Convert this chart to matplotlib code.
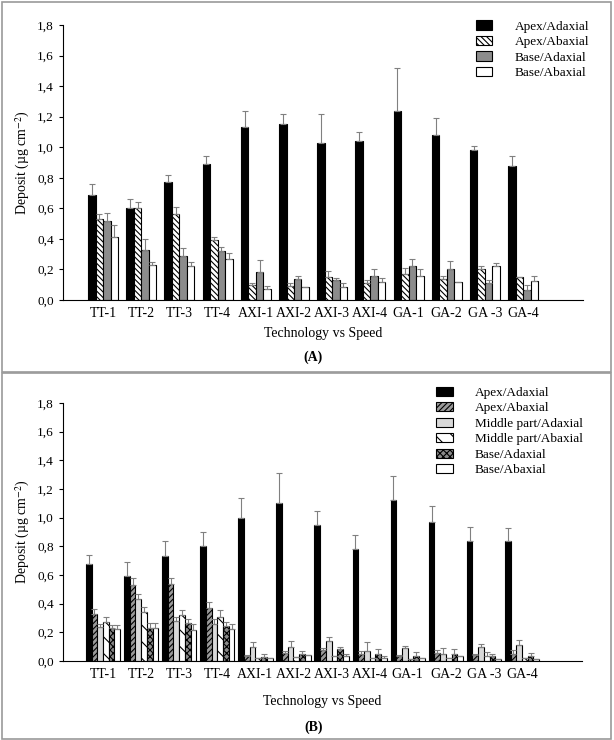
import numpy as np
import matplotlib
matplotlib.use('Agg')
import matplotlib.pyplot as plt
from matplotlib.patches import Rectangle

plt.rcParams['font.family'] = ['Liberation Serif', 'DejaVu Serif']
plt.rcParams['mathtext.fontset'] = 'stix'
plt.rcParams['hatch.linewidth'] = 0.8

cats = ['TT-1', 'TT-2', 'TT-3', 'TT-4', 'AXI-1', 'AXI-2', 'AXI-3', 'AXI-4',
        'GA-1', 'GA-2', 'GA -3', 'GA-4']
yticks = [0.0, 0.2, 0.4, 0.6, 0.8, 1.0, 1.2, 1.4, 1.6, 1.8]
ytick_labels = ['0,0', '0,2', '0,4', '0,6', '0,8', '1,0', '1,2', '1,4', '1,6', '1,8']

# panel A
a_apex_ad = [0.69, 0.60, 0.77, 0.89, 1.13, 1.15, 1.03, 1.04, 1.24, 1.08, 0.98, 0.88]
a_apex_ad_err = [0.07, 0.06, 0.05, 0.05, 0.11, 0.07, 0.19, 0.06, 0.28, 0.11, 0.03, 0.06]
a_apex_ab = [0.53, 0.60, 0.56, 0.39, 0.10, 0.09, 0.15, 0.11, 0.17, 0.14, 0.20, 0.15]
a_apex_ab_err = [0.03, 0.04, 0.05, 0.02, 0.01, 0.02, 0.04, 0.02, 0.04, 0.02, 0.02, 0.0]
a_base_ad = [0.52, 0.33, 0.29, 0.32, 0.18, 0.14, 0.13, 0.16, 0.22, 0.20, 0.11, 0.065]
a_base_ad_err = [0.05, 0.07, 0.05, 0.03, 0.08, 0.02, 0.015, 0.04, 0.05, 0.055, 0.02, 0.03]
a_base_ab = [0.41, 0.23, 0.22, 0.27, 0.075, 0.087, 0.087, 0.12, 0.16, 0.12, 0.22, 0.127]
a_base_ab_err = [0.08, 0.016, 0.03, 0.035, 0.018, 0.0, 0.022, 0.022, 0.04, 0.0, 0.025, 0.03]

# panel B
b_apex_ad = [0.68, 0.59, 0.73, 0.80, 1.00, 1.10, 0.95, 0.78, 1.12, 0.97, 0.84, 0.835]
b_apex_ad_err = [0.06, 0.10, 0.11, 0.10, 0.135, 0.21, 0.095, 0.10, 0.17, 0.11, 0.095, 0.09]
b_apex_ab = [0.33, 0.53, 0.54, 0.37, 0.033, 0.058, 0.079, 0.049, 0.035, 0.056, 0.042, 0.047]
b_apex_ab_err = [0.03, 0.047, 0.04, 0.04, 0.01, 0.012, 0.014, 0.023, 0.01, 0.021, 0.01, 0.03]
b_mid_ad = [0.24, 0.43, 0.28, 0.26, 0.10, 0.10, 0.14, 0.072, 0.088, 0.051, 0.10, 0.109]
b_mid_ad_err = [0.018, 0.037, 0.03, 0.033, 0.033, 0.04, 0.03, 0.063, 0.019, 0.037, 0.021, 0.04]
b_mid_ab = [0.27, 0.34, 0.32, 0.31, 0.023, 0.028, 0.033, 0.021, 0.016, 0.021, 0.037, 0.021]
b_mid_ab_err = [0.04, 0.035, 0.037, 0.047, 0.0, 0.0, 0.0, 0.0, 0.0, 0.0, 0.023, 0.0]
b_base_ad = [0.23, 0.23, 0.265, 0.244, 0.028, 0.049, 0.084, 0.051, 0.033, 0.049, 0.033, 0.037]
b_base_ad_err = [0.023, 0.033, 0.026, 0.03, 0.019, 0.021, 0.014, 0.03, 0.03, 0.032, 0.014, 0.016]
b_base_ab = [0.22, 0.233, 0.216, 0.223, 0.023, 0.042, 0.033, 0.023, 0.023, 0.033, 0.012, 0.016]
b_base_ab_err = [0.028, 0.03, 0.04, 0.035, 0.0, 0.0, 0.018, 0.014, 0.0, 0.0, 0.0, 0.0]


def draw_panel(ax, series, width, legend_anchor, xpad):
    x = np.arange(len(cats))
    n = len(series)
    for i, (vals, errs, label, fc, hatch) in enumerate(series):
        pos = x + (i - (n - 1) / 2) * width
        ax.bar(pos, vals, width, color=fc, edgecolor='black', linewidth=0.8,
               hatch=hatch, label=label,
               yerr=[np.zeros(len(errs)), errs], ecolor='#808080',
               error_kw=dict(elinewidth=0.8, capsize=2, capthick=0.8))
    ax.set_xlim(-1.05, 12.57)
    ax.set_ylim(0, 1.8)
    ax.set_yticks(yticks)
    ax.set_yticklabels(ytick_labels)
    ax.set_xticks(x)
    ax.set_xticklabels(cats)
    ax.tick_params(axis='x', length=0, labelsize=10, pad=5)
    ax.tick_params(axis='y', direction='out', length=3, labelsize=9.5)
    ax.spines['top'].set_visible(False)
    ax.spines['right'].set_visible(False)
    ax.set_ylabel('Deposit (\u00b5g cm$^{-2}$)', fontsize=10)
    ax.set_xlabel('Technology vs Speed', fontsize=10, labelpad=xpad)
    ax.legend(loc='upper right', bbox_to_anchor=legend_anchor, frameon=False,
              fontsize=9.5, handlelength=1.25, handleheight=0.7,
              labelspacing=0.25, handletextpad=1.7)


fig = plt.figure(figsize=(6.14, 7.40), dpi=100)

axA = fig.add_axes([0.1026, 0.5946, 0.847, 0.3716])
draw_panel(axA, [
    (a_apex_ad, a_apex_ad_err, 'Apex/Adaxial', 'black', None),
    (a_apex_ab, a_apex_ab_err, 'Apex/Abaxial', 'white', '\\\\\\\\\\\\'),
    (a_base_ad, a_base_ad_err, 'Base/Adaxial', '#8c8c8c', None),
    (a_base_ab, a_base_ab_err, 'Base/Abaxial', 'white', None),
], 0.196, (1.035, 1.06), 5)

axB = fig.add_axes([0.1026, 0.1068, 0.845, 0.3486])
draw_panel(axB, [
    (b_apex_ad, b_apex_ad_err, 'Apex/Adaxial', 'black', None),
    (b_apex_ab, b_apex_ab_err, 'Apex/Abaxial', '#9a9a9a', '//////'),
    (b_mid_ad, b_mid_ad_err, 'Middle part/Adaxial', '#d9d9d9', None),
    (b_mid_ab, b_mid_ab_err, 'Middle part/Abaxial', 'white', '\\\\'),
    (b_base_ad, b_base_ad_err, 'Base/Adaxial', '#8a8a8a', 'xxxxx'),
    (b_base_ab, b_base_ab_err, 'Base/Abaxial', 'white', None),
], 0.15, (1.025, 1.11), 10)

fig.text(0.5 + 0.01, 1 - 357 / 740, '(A)', ha='center', va='center',
         fontsize=10, fontweight='bold')
fig.text(0.5 + 0.01, 1 - 727 / 740, '(B)', ha='center', va='center',
         fontsize=10, fontweight='bold')

# panel borders
fig.patches.append(Rectangle((0.004, 1 - 372 / 740), 0.991, 370 / 740,
                             transform=fig.transFigure, fill=False,
                             edgecolor='#9a9a9a', linewidth=1.2))
fig.patches.append(Rectangle((0.004, 0.002), 0.991, 1 - 374 / 740,
                             transform=fig.transFigure, fill=False,
                             edgecolor='#9a9a9a', linewidth=1.2))

fig.savefig('out.png', dpi=100)
